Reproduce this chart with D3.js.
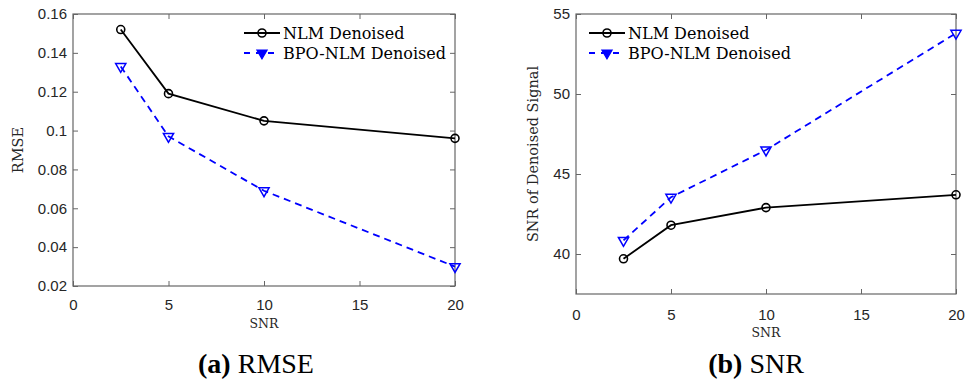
<!DOCTYPE html>
<html>
<head>
<meta charset="utf-8">
<script src="https://cdn.jsdelivr.net/npm/d3@7"></script>
<style>
  body { margin: 0; background: #fff; }
  svg { display: block; }
</style>
</head>
<body>
<div id="chart"></div>
<script>
// SNR levels (x) shared by both panels
const snrLevels = [2.5, 5, 10, 20];
const xTicks = [0, 5, 10, 15, 20];

// panel (a) RMSE
const rmseNLM = [0.152, 0.119, 0.105, 0.096];
const rmseBPO = [0.133, 0.097, 0.069, 0.030];
const rmseTicks = [0.02, 0.04, 0.06, 0.08, 0.1, 0.12, 0.14, 0.16];

// panel (b) SNR of denoised signal
const snrNLM = [39.7, 41.8, 42.9, 43.7];
const snrBPO = [40.85, 43.55, 46.5, 53.8];
const snrTicks = [40, 45, 50, 55];

const seriesNames = ["NLM Denoised", "BPO-NLM Denoised"];

const width = 979, height = 383;
const svg = d3.select("#chart").append("svg")
  .attr("width", width).attr("height", height);

const axisColor = "#666";
const tickFont = "'Liberation Sans', Arial, sans-serif";
const serif = "'DejaVu Serif', serif";
const timesFont = "'Liberation Serif', 'Times New Roman', serif";

function drawPanel(opts) {
  const { left, right, top, bottom, yDomain, yTicks, yFmt, nlm, bpo,
    yLabel, yLabelX, xLabelY, xTickY, legendX, caption, capX } = opts;

  const x = d3.scaleLinear().domain([0, 20]).range([left, right]);
  const y = d3.scaleLinear().domain(yDomain).range([bottom, top]);
  const g = svg.append("g");

  // bottom / left axes, ticks pointing inward
  const xa = g.append("g").attr("transform", `translate(0,${bottom})`)
    .call(d3.axisBottom(x).tickValues(xTicks).tickSize(-5).tickFormat(d3.format("d")));
  const ya = g.append("g").attr("transform", `translate(${left},0)`)
    .call(d3.axisLeft(y).tickValues(yTicks).tickSize(-5).tickPadding(6).tickFormat(yFmt));
  // top / right mirrored ticks
  const xt = g.append("g").attr("transform", `translate(0,${top})`)
    .call(d3.axisTop(x).tickValues(xTicks).tickSize(-5).tickFormat(""));
  const yr = g.append("g").attr("transform", `translate(${right},0)`)
    .call(d3.axisRight(y).tickValues(yTicks).tickSize(-5).tickFormat(""));

  [xa, ya, xt, yr].forEach(a => {
    a.select(".domain").remove();
    a.selectAll("line").attr("stroke", axisColor);
  });
  xa.selectAll("text").attr("dy", null).attr("y", xTickY - bottom)
    .attr("font-family", tickFont).attr("font-size", 15).attr("fill", "#262626");
  ya.selectAll("text").attr("font-family", tickFont).attr("font-size", 15).attr("fill", "#262626");

  g.append("rect")
    .attr("x", left).attr("y", top)
    .attr("width", right - left).attr("height", bottom - top)
    .attr("fill", "none").attr("stroke", axisColor).attr("stroke-width", 1.2);

  // axis labels
  g.append("text")
    .attr("x", (left + right) / 2).attr("y", xLabelY)
    .attr("text-anchor", "middle")
    .attr("font-family", serif).attr("font-size", 12.5).attr("fill", "#262626")
    .text("SNR");
  g.append("text")
    .attr("transform", `translate(${yLabelX},${(top + bottom) / 2}) rotate(-90)`)
    .attr("text-anchor", "middle")
    .attr("font-family", serif).attr("font-size", 14.5).attr("fill", "#262626")
    .text(yLabel);

  const line = d3.line().x((d, i) => x(snrLevels[i])).y(d => y(d));

  g.append("path").datum(nlm).attr("d", line)
    .attr("fill", "none").attr("stroke", "#000").attr("stroke-width", 1.8);
  g.append("path").datum(bpo).attr("d", line)
    .attr("fill", "none").attr("stroke", "#0000ff").attr("stroke-width", 1.8)
    .attr("stroke-dasharray", "7,5");

  const tri = d3.symbol().type(d3.symbolTriangle).size(45);

  g.selectAll(".c").data(nlm).join("circle")
    .attr("cx", (d, i) => x(snrLevels[i])).attr("cy", d => y(d)).attr("r", 4)
    .attr("fill", "none").attr("stroke", "#000").attr("stroke-width", 1.6);
  g.selectAll(".t").data(bpo).join("path")
    .attr("d", tri)
    .attr("transform", (d, i) => `translate(${x(snrLevels[i])},${y(d)}) rotate(180)`)
    .attr("fill", "none").attr("stroke", "#0000ff").attr("stroke-width", 1.5);

  // legend (no box)
  const rowY = [33, 53];
  seriesNames.forEach((name, k) => {
    const color = k === 0 ? "#000" : "#0000ff";
    g.append("line")
      .attr("x1", legendX).attr("x2", legendX + 36)
      .attr("y1", rowY[k]).attr("y2", rowY[k])
      .attr("stroke", color).attr("stroke-width", 1.8)
      .attr("stroke-dasharray", k === 1 ? "6,6" : null);
    if (k === 0) {
      g.append("circle").attr("cx", legendX + 18).attr("cy", rowY[k]).attr("r", 4)
        .attr("fill", "none").attr("stroke", "#000").attr("stroke-width", 1.6);
    } else {
      g.append("path").attr("d", tri)
        .attr("transform", `translate(${legendX + 18},${rowY[k]}) rotate(180)`)
        .attr("fill", "#0000ff").attr("stroke", "#0000ff").attr("stroke-width", 1.2);
    }
    g.append("text")
      .attr("x", legendX + 39).attr("y", rowY[k]).attr("dy", "0.35em")
      .attr("font-family", serif).attr("font-size", 16).attr("fill", "#000")
      .text(name);
  });

  // caption
  const cap = svg.append("text")
    .attr("x", capX).attr("y", 373).attr("text-anchor", "middle")
    .attr("font-family", timesFont)
    .attr("font-size", 28).attr("fill", "#000");
  cap.append("tspan").attr("font-weight", "bold").text(caption[0]);
  cap.append("tspan").text(" " + caption[1]);
}

drawPanel({
  left: 73, right: 455, top: 14, bottom: 286,
  yDomain: [0.02, 0.16], yTicks: rmseTicks, yFmt: d3.format("~g"),
  nlm: rmseNLM, bpo: rmseBPO,
  yLabel: "RMSE", yLabelX: 23, xLabelY: 328, xTickY: 310,
  legendX: 244, caption: ["(a)", "RMSE"], capX: 256
});

drawPanel({
  left: 576, right: 956, top: 14, bottom: 294,
  yDomain: [37.5, 55], yTicks: snrTicks, yFmt: d3.format("d"),
  nlm: snrNLM, bpo: snrBPO,
  yLabel: "SNR of Denoised Signal", yLabelX: 538, xLabelY: 337, xTickY: 320,
  legendX: 589, caption: ["(b)", "SNR"], capX: 756
});
</script>
</body>
</html>
